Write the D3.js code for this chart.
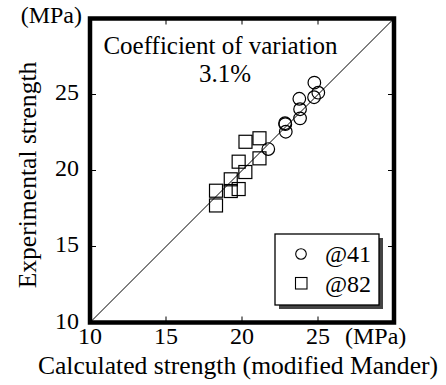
<!DOCTYPE html>
<html>
<head>
<meta charset="utf-8">
<script src="https://cdn.jsdelivr.net/npm/d3@7"></script>
<style>
  html, body { margin: 0; padding: 0; background: #fff; }
  svg { display: block; }
</style>
</head>
<body>
<div id="chart"></div>
<script>
// ---- data ----
const seriesNames = ["@41", "@82"];
const calc41 = [24.76, 25.02, 24.74, 23.77, 23.82, 23.82, 22.83, 22.85, 22.88, 21.73];
const exp41  = [25.78, 25.12, 24.82, 24.72, 24.03, 23.43, 23.11, 23.05, 22.55, 21.41];
const calc82 = [20.23, 21.15, 21.15, 20.22, 19.78, 19.26, 19.26, 19.78, 18.29, 18.29];
const exp82  = [21.89, 22.12, 20.80, 19.90, 20.58, 19.42, 18.65, 18.78, 18.67, 17.70];
const tickValues = [10, 15, 20, 25];
const axisDomain = [10, 30];
const xTitle = "Calculated strength (modified Mander)";
const yTitle = "Experimental strength";
const unitLabel = "(MPa)";
const cvLabel = ["Coefficient of variation", "3.1%"];

// ---- layout ----
const FONT = "'Liberation Serif'";
const W = 446, H = 385;
const svg = d3.select("#chart").append("svg").attr("width", W).attr("height", H);

function txt(parent, s, size) {
  return parent.append("text").style("font-family", FONT).style("font-size", size + "px")
    .attr("fill", "#000").text(s);
}

const x = d3.scaleLinear().domain(axisDomain).range([90, 394]);
const y = d3.scaleLinear().domain(axisDomain).range([322.5, 18.5]);

const inner = tickValues.filter(v => v > axisDomain[0] && v < axisDomain[1]);

// 1:1 line
svg.append("line")
  .attr("x1", x(axisDomain[0])).attr("y1", y(axisDomain[0]))
  .attr("x2", x(axisDomain[1])).attr("y2", y(axisDomain[1]))
  .attr("stroke", "#000").attr("stroke-width", 1);

// inward ticks on all four sides
const tl = 6;
const tickG = svg.append("g").attr("stroke", "#000").attr("stroke-width", 1);
inner.forEach(v => {
  tickG.append("line").attr("x1", x(v)).attr("x2", x(v)).attr("y1", y(axisDomain[0])).attr("y2", y(axisDomain[0]) - tl);
  tickG.append("line").attr("x1", x(v)).attr("x2", x(v)).attr("y1", y(axisDomain[1])).attr("y2", y(axisDomain[1]) + tl);
  tickG.append("line").attr("y1", y(v)).attr("y2", y(v)).attr("x1", x(axisDomain[0])).attr("x2", x(axisDomain[0]) + tl);
  tickG.append("line").attr("y1", y(v)).attr("y2", y(v)).attr("x1", x(axisDomain[1])).attr("x2", x(axisDomain[1]) - tl);
});

// markers
const pts41 = calc41.map((c, i) => ({c, e: exp41[i]}));
const pts82 = calc82.map((c, i) => ({c, e: exp82[i]}));
const sq = 13;
svg.append("g").selectAll("rect").data(pts82).join("rect")
  .attr("x", d => x(d.c) - sq / 2).attr("y", d => y(d.e) - sq / 2)
  .attr("width", sq).attr("height", sq)
  .attr("fill", "none").attr("stroke", "#000").attr("stroke-width", 1.2);
svg.append("g").selectAll("circle").data(pts41).join("circle")
  .attr("cx", d => x(d.c)).attr("cy", d => y(d.e)).attr("r", 6.3)
  .attr("fill", "none").attr("stroke", "#000").attr("stroke-width", 1.2);

// frame
svg.append("rect")
  .attr("x", x(axisDomain[0])).attr("y", y(axisDomain[1]))
  .attr("width", x(axisDomain[1]) - x(axisDomain[0]))
  .attr("height", y(axisDomain[0]) - y(axisDomain[1]))
  .attr("fill", "none").attr("stroke", "#000").attr("stroke-width", 4.5);

// tick labels
const fs = 24;
const xl = svg.append("g");
tickValues.forEach(v => {
  txt(xl, v, fs).attr("x", x(v)).attr("y", 344).attr("text-anchor", "middle");
});
const yl = svg.append("g");
tickValues.forEach(v => {
  txt(yl, v, fs).attr("x", 79).attr("y", y(v) + (v === axisDomain[0] ? 6 : 5)).attr("text-anchor", "end");
});

// units
txt(svg, unitLabel, fs).attr("x", 345).attr("y", 344);
txt(svg, unitLabel, fs).attr("x", 82).attr("y", 23).attr("text-anchor", "end");

// axis titles
txt(svg, xTitle, 25.6).attr("x", 238).attr("y", 374).attr("text-anchor", "middle");
txt(svg, yTitle, 25.6).attr("transform", "translate(35.5,175) rotate(-90)").attr("text-anchor", "middle");

// coefficient annotation
txt(svg, cvLabel[0], 25).attr("x", 220.5).attr("y", 54).attr("text-anchor", "middle");
txt(svg, cvLabel[1], 25).attr("x", 225).attr("y", 82).attr("text-anchor", "middle");

// legend
const lg = svg.append("g");
const bx = 275, by = 234, bw = 104, bh = 71;
lg.append("rect").attr("x", bx + 4).attr("y", by + 4).attr("width", bw).attr("height", bh).attr("fill", "#444");
lg.append("rect").attr("x", bx).attr("y", by).attr("width", bw).attr("height", bh)
  .attr("fill", "#fff").attr("stroke", "#000").attr("stroke-width", 1.3);
lg.append("circle").attr("cx", 301).attr("cy", 254).attr("r", 5.3)
  .attr("fill", "none").attr("stroke", "#000").attr("stroke-width", 1.1);
lg.append("rect").attr("x", 295.5).attr("y", 277.5).attr("width", 11.5).attr("height", 11.5)
  .attr("fill", "none").attr("stroke", "#000").attr("stroke-width", 1.1);
txt(lg, seriesNames[0], fs).attr("x", 325).attr("y", 262);
txt(lg, seriesNames[1], fs).attr("x", 325).attr("y", 292);
</script>
</body>
</html>
